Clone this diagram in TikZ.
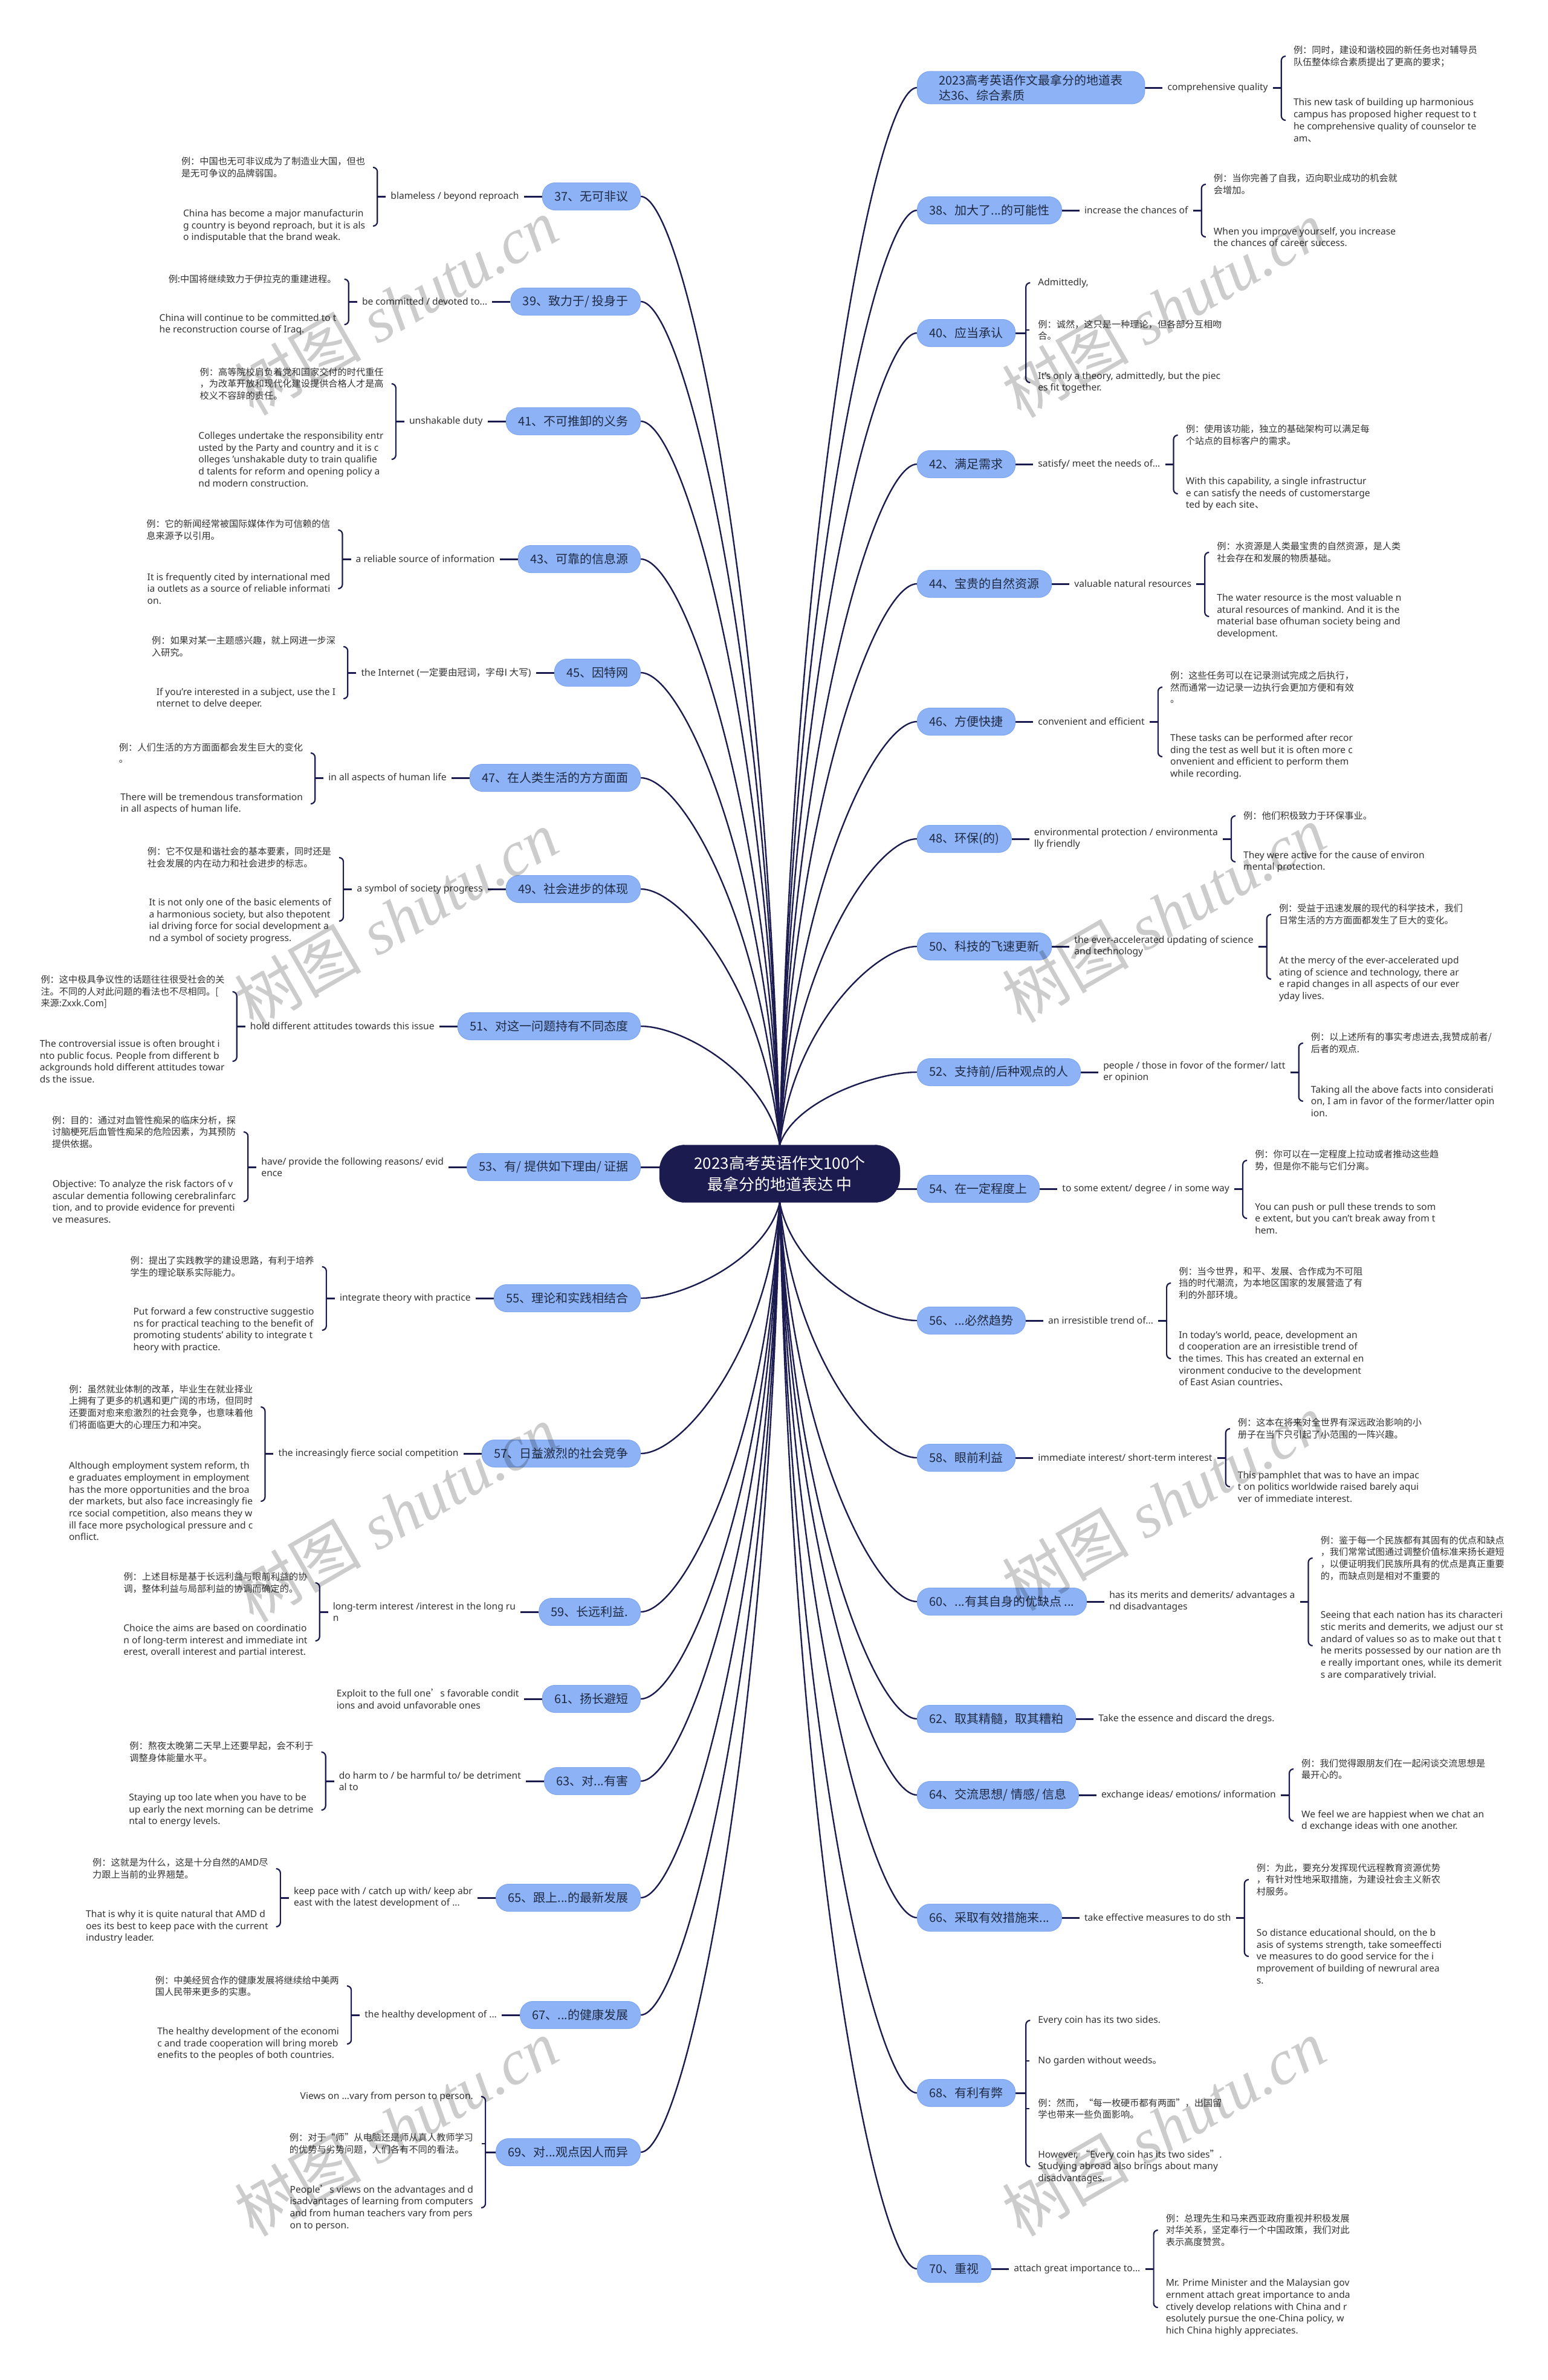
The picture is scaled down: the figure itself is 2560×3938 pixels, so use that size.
\documentclass[tikz,border=0pt]{standalone}
\usepackage{fontspec}
\setmainfont{Noto Sans}
\newfontfamily\cjk{Noto Sans CJK SC}
\newfontfamily\wmlat{Liberation Serif}
\usetikzlibrary{calc}
\pgfdeclarelayer{bg}
\pgfsetlayers{bg,main}
\definecolor{navy}{HTML}{1B1B4F}
\definecolor{topicfill}{HTML}{8DB3F6}
\definecolor{topicborder}{HTML}{7FA6EE}
\definecolor{topictext}{HTML}{1F2A44}
\definecolor{txt}{HTML}{333333}
\tikzset{
 topic/.style={draw=topicborder, line width=1pt, fill=topicfill, rounded corners=21pt, minimum height=45pt, inner xsep=20pt, inner ysep=5pt, text=topictext, font=\cjk\fontsize{20}{25}\selectfont, align=center},
 hubnode/.style={fill=navy, draw=navy, rounded corners=42pt, minimum width=398pt, minimum height=95pt, text=white, font=\cjk\fontsize{26}{35}\selectfont, align=center},
 lbl/.style={inner xsep=8pt, inner ysep=2pt, text=txt, font=\fontsize{15.6}{19.7}\selectfont, align=left},
 ex/.style={inner sep=0pt, text=txt, font=\fontsize{15.6}{19.7}\selectfont, align=left},
 exz/.style={ex, font=\cjk\fontsize{15.2}{19.7}\selectfont},
 conn/.style={draw=navy, line width=2.4pt},
 lnk/.style={draw=navy, line width=3pt},
 brk/.style={draw=navy, line width=2.2pt, rounded corners=7pt},
 wm/.style={rotate=30, text=black, text opacity=0.2, font=\fontsize{105}{105}\selectfont}
}
\newcommand\curv[2]{\draw[conn] let \p1=(#1), \p2=(#2) in (\p1) .. controls ({\x1+0.1*(\x2-\x1)},{\y1+0.6*(\y2-\y1)}) and ({\x1+0.7*(\x2-\x1)},\y2) .. (\p2);}
\newcommand\brR[3]{\draw[brk] ([xshift=-14pt]#2.west) -- (#1 |- #2.west) -- (#1 |- #3.west) -- ([xshift=-14pt]#3.west);}
\newcommand\tickR[2]{\draw[brk] (#1 |- #2.west) -- ([xshift=-14pt]#2.west);}
\newcommand\brL[3]{\draw[brk] ([xshift=14pt]#2.east) -- (#1 |- #2.east) -- (#1 |- #3.east) -- ([xshift=14pt]#3.east);}
\newcommand\tickL[2]{\draw[brk] (#1 |- #2.east) -- ([xshift=14pt]#2.east);}
% right branch: id, y, topic, label, yA, A (cjk), yB, B
\newcommand\RB[8]{%
 \node[topic, anchor=west] (t#1) at (1517,#2) {#3};
 \node[lbl, anchor=west] (l#1) at ([xshift=29pt]t#1.east) {#4};
 \coordinate (b#1) at ([xshift=14pt]l#1.east);
 \node[exz, anchor=west, xshift=20pt] (a#1) at (b#1 |- 0,#5) {#6};
 \node[ex, anchor=west, xshift=20pt] (e#1) at (b#1 |- 0,#7) {#8};
 \begin{pgfonlayer}{bg}
 \draw[lnk] (t#1.east) -- (l#1.west);
 \draw[lnk] (l#1.east) -- (b#1);
 \brR{b#1}{a#1}{e#1}
 \end{pgfonlayer}}
\newcommand\LB[8]{%
 \node[topic, anchor=east] (t#1) at (1060,#2) {#3};
 \node[lbl, anchor=east] (l#1) at ([xshift=-30pt]t#1.west) {#4};
 \coordinate (b#1) at ([xshift=-14pt]l#1.west);
 \node[exz, anchor=east, xshift=-20pt] (a#1) at (b#1 |- 0,#5) {#6};
 \node[ex, anchor=east, xshift=-20pt] (e#1) at (b#1 |- 0,#7) {#8};
 \begin{pgfonlayer}{bg}
 \draw[lnk] (t#1.west) -- (l#1.east);
 \draw[lnk] (l#1.west) -- (b#1);
 \brL{b#1}{a#1}{e#1}
 \end{pgfonlayer}}
\begin{document}
\begin{tikzpicture}[x=1pt,y=-1pt]
\begin{pgfonlayer}{bg}
\fill[white] (0,0) rectangle (2560,3938);
\end{pgfonlayer}
\path[use as bounding box] (0,0) rectangle (2560,3938);

\node[hubnode] (hub) at (1290,1942) {2023高考英语作文100个\\最拿分的地道表达 中};

% ---------- right side ----------
\node[topic, anchor=west, align=left, inner xsep=36pt] (t36) at (1517,145) {2023高考英语作文最拿分的地道表\\达36、综合素质};
\node[lbl, anchor=west] (l36) at ([xshift=29pt]t36.east) {comprehensive quality};
\coordinate (b36) at ([xshift=14pt]l36.east);
\node[exz, anchor=west, xshift=20pt] (a36) at (b36 |- 0,93) {例：同时，建设和谐校园的新任务也对辅导员\\队伍整体综合素质提出了更高的要求；};
\node[ex, anchor=west, xshift=20pt] (e36) at (b36 |- 0,199) {This new task of building up harmonious\\campus has proposed higher request to t\\he comprehensive quality of counselor te\\am{\cjk 、}};
\begin{pgfonlayer}{bg}
\draw[lnk] (t36.east) -- (l36.west);
\draw[lnk] (l36.east) -- (b36);
\brR{b36}{a36}{e36}
\end{pgfonlayer}

\RB{38}{348}{38、加大了...的可能性}{increase the chances of}{305}{例：当你完善了自我，迈向职业成功的机会就\\会增加。}{392}{When you improve yourself, you increase\\ the chances of career success.}

\node[topic, anchor=west] (t40) at (1517,551) {40、应当承认};
\coordinate (b40) at ([xshift=17pt]t40.east);
\node[ex, anchor=west, xshift=20pt] (a40) at (b40 |- 0,468) {Admittedly,};
\node[exz, anchor=west, xshift=20pt] (m40) at (b40 |- 0,546) {例：诚然，这只是一种理论，但各部分互相吻\\合。};
\node[ex, anchor=west, xshift=20pt] (e40) at (b40 |- 0,633) {It's only a theory, admittedly, but the piec\\es fit together.};
\begin{pgfonlayer}{bg}
\draw[lnk] (t40.east) -- (b40);
\brR{b40}{a40}{e40}
\tickR{b40}{m40}
\end{pgfonlayer}

\RB{42}{768}{42、满足需求}{satisfy/ meet the needs of...}{720}{例：使用该功能，独立的基础架构可以满足每\\个站点的目标客户的需求。}{817}{With this capability, a single infrastructur\\e can satisfy the needs of customerstarge\\ted by each site{\cjk 、}}

\RB{44}{966}{44、宝贵的自然资源}{valuable natural resources}{914}{例：水资源是人类最宝贵的自然资源，是人类\\社会存在和发展的物质基础。}{1020}{The water resource is the most valuable n\\atural resources of mankind. And it is the\\material base ofhuman society being and\\ development.}

\RB{46}{1194}{46、方便快捷}{convenient and efficient}{1137}{例：这些任务可以在记录测试完成之后执行，\\然而通常一边记录一边执行会更加方便和有效\\。}{1252}{These tasks can be performed after recor\\ding the test as well but it is often more c\\onvenient and efficient to perform them\\while recording.}

\RB{48}{1388}{48、环保(的)}{environmental protection / environmenta\\lly friendly}{1350}{例：他们积极致力于环保事业。}{1426}{They were active for the cause of environ\\mental protection.}

\RB{50}{1566}{50、科技的飞速更新}{the ever-accelerated updating of science\\and technology}{1513}{例：受益于迅速发展的现代的科学技术，我们\\日常生活的方方面面都发生了巨大的变化。}{1620}{At the mercy of the ever-accelerated upd\\ating of science and technology, there ar\\e rapid changes in all aspects of our ever\\yday lives.}

\RB{52}{1774}{52、支持前/后种观点的人}{people / those in fovor of the former/ latt\\er opinion}{1726}{例：以上述所有的事实考虑进去,我赞成前者/\\后者的观点.}{1822}{Taking all the above facts into considerati\\on, I am in favor of the former/latter opin\\ion.}

\RB{54}{1967}{54、在一定程度上}{to some extent/ degree / in some way}{1920}{例：你可以在一定程度上拉动或者推动这些趋\\势，但是你不能与它们分离。}{2016}{You can push or pull these trends to som\\e extent, but you can't break away from t\\hem.}

\RB{56}{2185}{56、...必然趋势}{an irresistible trend of...}{2123}{例：当今世界，和平、发展、合作成为不可阻\\挡的时代潮流，为本地区国家的发展营造了有\\利的外部环境。}{2248}{In today's world, peace, development an\\d cooperation are an irresistible trend of\\the times. This has created an external en\\vironment conducive to the development\\ of East Asian countries{\cjk 、}}

\RB{58}{2412}{58、眼前利益}{immediate interest/ short-term interest}{2364}{例：这本在将来对全世界有深远政治影响的小\\册子在当下只引起了小范围的一阵兴趣。}{2460}{This pamphlet that was to have an impac\\t on politics worldwide raised barely aqui\\ver of immediate interest.}

\RB{60}{2650}{60、...有其自身的优缺点 ...}{has its merits and demerits/ advantages a\\nd disadvantages}{2578}{例：鉴于每一个民族都有其固有的优点和缺点\\，我们常常试图通过调整价值标准来扬长避短\\，以便证明我们民族所具有的优点是真正重要\\的，而缺点则是相对不重要的}{2723}{Seeing that each nation has its characteri\\stic merits and demerits, we adjust our st\\andard of values so as to make out that t\\he merits possessed by our nation are th\\e really important ones, while its demerit\\s are comparatively trivial.}

\node[topic, anchor=west] (t62) at (1517,2844) {62、取其精髓，取其糟粕};
\node[lbl, anchor=west] (l62) at ([xshift=29pt]t62.east) {Take the essence and discard the dregs.};
\begin{pgfonlayer}{bg}
\draw[lnk] (t62.east) -- (l62.west);
\end{pgfonlayer}

\RB{64}{2970}{64、交流思想/ 情感/ 信息}{exchange ideas/ emotions/ information}{2927}{例：我们觉得跟朋友们在一起闲谈交流思想是\\最开心的。}{3013}{We feel we are happiest when we chat an\\d exchange ideas with one another.}

\RB{66}{3173}{66、采取有效措施来...}{take effective measures to do sth}{3110}{例：为此，要充分发挥现代远程教育资源优势\\，有针对性地采取措施，为建设社会主义新农\\村服务。}{3237}{So distance educational should, on the b\\asis of systems strength, take someeffecti\\ve measures to do good service for the i\\mprovement of building of newrural area\\s.}

\node[topic, anchor=west] (t68) at (1517,3463) {68、有利有弊};
\coordinate (b68) at ([xshift=17pt]t68.east);
\node[ex, anchor=west, xshift=20pt] (a68) at (b68 |- 0,3343) {Every coin has its two sides.};
\node[ex, anchor=west, xshift=20pt] (m68) at (b68 |- 0,3410) {No garden without weeds{\cjk 。}};
\node[exz, anchor=west, xshift=20pt] (n68) at (b68 |- 0,3489) {例：然而，“每一枚硬币都有两面”，出国留\\学也带来一些负面影响。};
\node[ex, anchor=west, xshift=20pt] (e68) at (b68 |- 0,3585) {However, {\cjk “}Every coin has its two sides{\cjk ”}.\\ Studying abroad also brings about many\\ disadvantages.};
\begin{pgfonlayer}{bg}
\draw[lnk] (t68.east) -- (b68);
\brR{b68}{a68}{e68}
\tickR{b68}{m68}
\tickR{b68}{n68}
\end{pgfonlayer}

\RB{70}{3754}{70、重视}{attach great importance to...}{3690}{例：总理先生和马来西亚政府重视并积极发展\\对华关系，坚定奉行一个中国政策，我们对此\\表示高度赞赏。}{3818}{Mr. Prime Minister and the Malaysian gov\\ernment attach great importance to anda\\ctively develop relations with China and r\\esolutely pursue the one-China policy, w\\hich China highly appreciates.}

% ---------- left side ----------
\LB{37}{325}{37、无可非议}{blameless / beyond reproach}{277}{例：中国也无可非议成为了制造业大国，但也\\是无可争议的品牌弱国。}{374}{China has become a major manufacturin\\g country is beyond reproach, but it is als\\o indisputable that the brand weak.}

\LB{39}{499}{39、致力于/ 投身于}{be committed / devoted to...}{462}{例:中国将继续致力于伊拉克的重建进程。}{537}{China will continue to be committed to t\\he reconstruction course of Iraq.}

\LB{41}{697}{41、不可推卸的义务}{unshakable duty}{635}{例：高等院校肩负着党和国家交付的时代重任\\，为改革开放和现代化建设提供合格人才是高\\校义不容辞的责任。}{760}{Colleges undertake the responsibility entr\\usted by the Party and country and it is c\\olleges 'unshakable duty to train qualifie\\d talents for reform and opening policy a\\nd modern construction.}

\LB{43}{925}{43、可靠的信息源}{a reliable source of information}{877}{例：它的新闻经常被国际媒体作为可信赖的信\\息来源予以引用。}{974}{It is frequently cited by international med\\ia outlets as a source of reliable informati\\on.}

\LB{45}{1113}{45、因特网}{the Internet ({\cjk 一定要由冠词，字母I 大写})}{1070}{例：如果对某一主题感兴趣，就上网进一步深\\入研究。}{1156}{If you're interested in a subject, use the I\\nternet to delve deeper.}

\LB{47}{1287}{47、在人类生活的方方面面}{in all aspects of human life}{1246}{例：人们生活的方方面面都会发生巨大的变化\\。}{1330}{There will be tremendous transformation\\in all aspects of human life.}

\LB{49}{1471}{49、社会进步的体现}{a symbol of society progress}{1419}{例：它不仅是和谐社会的基本要素，同时还是\\社会发展的内在动力和社会进步的标志。}{1524}{It is not only one of the basic elements of\\ a harmonious society, but also thepotent\\ial driving force for social development a\\nd a symbol of society progress.}

\LB{51}{1698}{51、对这一问题持有不同态度}{hold different attitudes towards this issue}{1641}{例：这中极具争议性的话题往往很受社会的关\\注。不同的人对此问题的看法也不尽相同。[\\来源:Zxxk.Com]}{1756}{The controversial issue is often brought i\\nto public focus. People from different b\\ackgrounds hold different attitudes towar\\ds the issue.}

\LB{53}{1931}{53、有/ 提供如下理由/ 证据}{have/ provide the following reasons/ evid\\ence}{1873}{例：目的：通过对血管性痴呆的临床分析，探\\讨脑梗死后血管性痴呆的危险因素，为其预防\\提供依据。}{1988}{Objective: To analyze the risk factors of v\\ascular dementia following cerebralinfarc\\tion, and to provide evidence for preventi\\ve measures.}

\LB{55}{2148}{55、理论和实践相结合}{integrate theory with practice}{2096}{例：提出了实践教学的建设思路，有利于培养\\学生的理论联系实际能力。}{2201}{Put forward a few constructive suggestio\\ns for practical teaching to the benefit of\\promoting students' ability to integrate t\\heory with practice.}

\LB{57}{2405}{57、日益激烈的社会竞争}{the increasingly fierce social competition}{2328}{例：虽然就业体制的改革，毕业生在就业择业\\上拥有了更多的机遇和更广阔的市场，但同时\\还要面对愈来愈激烈的社会竞争，也意味着他\\们将面临更大的心理压力和冲突。}{2484}{Although employment system reform, th\\e graduates employment in employment\\has the more opportunities and the broa\\der markets, but also face increasingly fie\\rce social competition, also means they w\\ill face more psychological pressure and c\\onflict.}

\LB{59}{2667}{59、长远利益.}{long-term interest /interest in the long ru\\n}{2619}{例：上述目标是基于长远利益与眼前利益的协\\调，整体利益与局部利益的协调而确定的。}{2715}{Choice the aims are based on coordinatio\\n of long-term interest and immediate int\\erest, overall interest and partial interest.}

\node[topic, anchor=east] (t61) at (1060,2811) {61、扬长避短};
\node[lbl, anchor=east] (l61) at ([xshift=-30pt]t61.west) {Exploit to the full one{\cjk ’}s favorable condit\\ions and avoid unfavorable ones};
\begin{pgfonlayer}{bg}
\draw[lnk] (t61.west) -- (l61.east);
\end{pgfonlayer}

\LB{63}{2947}{63、对...有害}{do harm to / be harmful to/ be detriment\\al to}{2899}{例：熬夜太晚第二天早上还要早起，会不利于\\调整身体能量水平。}{2995}{Staying up too late when you have to be\\up early the next morning can be detrime\\ntal to energy levels.}

\LB{65}{3140}{65、跟上...的最新发展}{keep pace with / catch up with/ keep abr\\east with the latest development of ...}{3092}{例：这就是为什么，这是十分自然的AMD尽\\力跟上当前的业界翘楚。}{3188}{That is why it is quite natural that AMD d\\oes its best to keep pace with the current\\ industry leader.}

\LB{67}{3334}{67、...的健康发展}{the healthy development of ...}{3286}{例：中美经贸合作的健康发展将继续给中美两\\国人民带来更多的实惠。}{3382}{The healthy development of the economi\\c and trade cooperation will bring moreb\\enefits to the peoples of both countries.}

\node[topic, anchor=east] (t69) at (1060,3561) {69、对...观点因人而异};
\coordinate (b69) at ([xshift=-17pt]t69.west);
\node[ex, anchor=east, xshift=-20pt] (a69) at (b69 |- 0,3469) {Views on ...vary from person to person.};
\node[exz, anchor=east, xshift=-20pt] (m69) at (b69 |- 0,3547) {例：对于“师”从电脑还是师从真人教师学习\\的优势与劣势问题，人们各有不同的看法。};
\node[ex, anchor=east, xshift=-20pt] (e69) at (b69 |- 0,3653) {People{\cjk ’}s views on the advantages and d\\isadvantages of learning from computers\\and from human teachers vary from pers\\on to person.};
\begin{pgfonlayer}{bg}
\draw[lnk] (t69.west) -- (b69);
\brL{b69}{a69}{e69}
\tickL{b69}{m69}
\end{pgfonlayer}

% ---------- main connectors ----------
\begin{pgfonlayer}{bg}
\foreach \q in {37,39,41,43,45,47,49,51} {\curv{hub.north}{t\q.east}}
\foreach \q in {36,38,40,42,44,46,48,50,52} {\curv{hub.north}{t\q.west}}
\foreach \q in {55,57,59,61,63,65,67,69} {\curv{hub.south}{t\q.east}}
\foreach \q in {56,58,60,62,64,66,68,70} {\curv{hub.south}{t\q.west}}
\draw[lnk] (t53.east) -- (hub.center |- t53.east);
\draw[lnk] (hub.center |- t54.west) -- (t54.west);
\end{pgfonlayer}

% ---------- watermarks ----------
\foreach \wx/\wy [count=\k] in {655/507,655/1520,655/2504,655/3520,1925/511,1925/1512,1925/2485,1925/3520}
 {\node[wm] (wm\k) at (\wx,\wy) {{\cjk 树图} {\wmlat\itshape shutu.cn}};}
\end{tikzpicture}
\end{document}
